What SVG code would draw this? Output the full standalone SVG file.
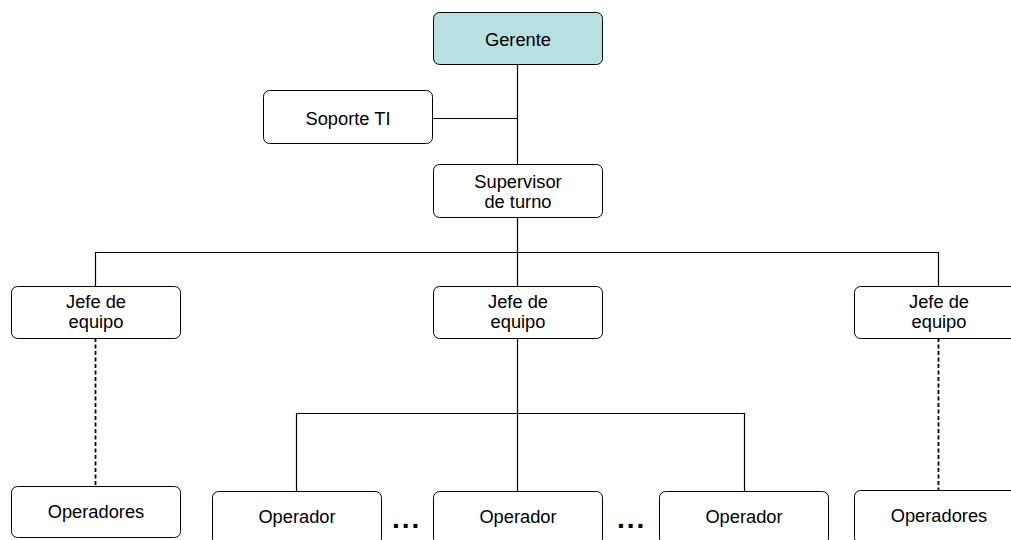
<svg xmlns="http://www.w3.org/2000/svg" width="1011" height="540" viewBox="0 0 1011 540">
<style>
.box{fill:#ffffff;stroke:#000;stroke-width:1}
.top{fill:#b8dfe2;stroke:#000;stroke-width:1}
.t{font-family:"Liberation Sans",Arial,sans-serif;font-size:18.3px;fill:#000;text-anchor:middle}
.c{stroke:#000;stroke-width:1.2;fill:none}
.d{stroke:#000;stroke-width:1.8;fill:none;stroke-dasharray:4,2.5}
.dots{font-family:"Liberation Sans",Arial,sans-serif;font-size:28px;font-weight:bold;fill:#000;letter-spacing:2px}
</style>
<rect width="1011" height="540" fill="#fff"/>
<g id="connectors">
<line class="c" x1="517.5" y1="64" x2="517.5" y2="164"/>
<line class="c" x1="433" y1="118.5" x2="517.5" y2="118.5"/>
<line class="c" x1="517.5" y1="218" x2="517.5" y2="286"/>
<polyline class="c" points="95.5,286 95.5,252.5 938.5,252.5 938.5,286"/>
<line class="c" x1="517.5" y1="338" x2="517.5" y2="491"/>
<polyline class="c" points="296.5,491 296.5,413.5 744.5,413.5 744.5,491"/>
<line class="d" x1="95.5" y1="338" x2="95.5" y2="486"/>
<line class="d" x1="938.5" y1="338" x2="938.5" y2="490"/>
</g>
<g id="gerente"><rect class="top" x="433.5" y="12.5" width="169" height="52" rx="6"/><text class="t" x="518" y="45.5">Gerente</text></g>
<g id="soporte"><rect class="box" x="263.5" y="90.5" width="169" height="53" rx="6"/><text class="t" x="348" y="125">Soporte TI</text></g>
<g id="supervisor"><rect class="box" x="433.5" y="164.5" width="169" height="53" rx="6"/><text class="t" x="518" y="188">Supervisor</text><text class="t" x="518" y="208">de turno</text></g>
<g id="jefe1"><rect class="box" x="11.5" y="286.5" width="169" height="52" rx="6"/><text class="t" x="96" y="308">Jefe de</text><text class="t" x="96" y="328">equipo</text></g>
<g id="jefe2"><rect class="box" x="433.5" y="286.5" width="169" height="52" rx="6"/><text class="t" x="518" y="308">Jefe de</text><text class="t" x="518" y="328">equipo</text></g>
<g id="jefe3"><rect class="box" x="854.5" y="286.5" width="169" height="52" rx="6"/><text class="t" x="939" y="308">Jefe de</text><text class="t" x="939" y="328">equipo</text></g>
<g id="operadores1"><rect class="box" x="11.5" y="486.5" width="169" height="51" rx="6"/><text class="t" x="96" y="518">Operadores</text></g>
<g id="operador1"><rect class="box" x="212.5" y="491.5" width="169" height="53" rx="6"/><text class="t" x="297" y="523">Operador</text></g>
<g id="operador2"><rect class="box" x="433.5" y="491.5" width="169" height="53" rx="6"/><text class="t" x="518" y="523">Operador</text></g>
<g id="operador3"><rect class="box" x="659.5" y="491.5" width="169" height="53" rx="6"/><text class="t" x="744" y="523">Operador</text></g>
<g id="operadores2"><rect class="box" x="854.5" y="490.5" width="169" height="53" rx="6"/><text class="t" x="939" y="522">Operadores</text></g>
<g id="ellipses"><text class="dots" x="392" y="528">...</text><text class="dots" x="617" y="528">...</text></g>
</svg>
